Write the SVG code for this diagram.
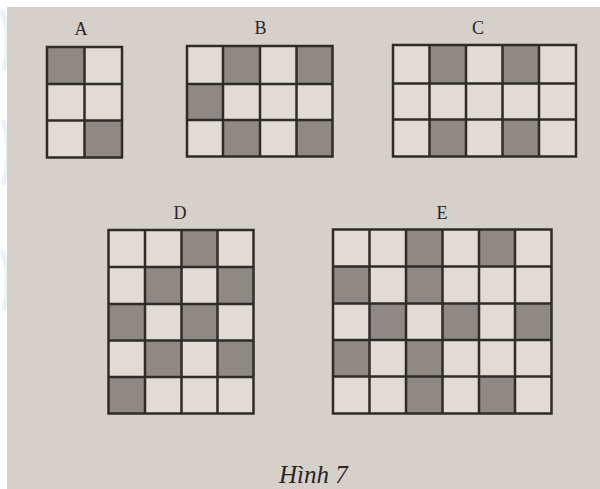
<svg xmlns="http://www.w3.org/2000/svg" width="600" height="489" viewBox="0 0 600 489">
<style>
.paper{fill:#d6d0cb}
.cell{fill:#e1dbd6}
.dark{fill:#8f8985}
.grid{fill:none;stroke:#2f2b29;stroke-width:2.5;stroke-linecap:square}
.lbl{font-family:"Liberation Serif","Times New Roman",serif;font-size:18px;fill:#2a2624;text-anchor:middle}
.cap{font-family:"Liberation Serif","Times New Roman",serif;font-size:25px;font-style:italic;fill:#2a2624}
.wm{fill:none;stroke:#d9e9f5;stroke-width:5;opacity:0.6}
</style>
<rect x="0" y="0" width="600" height="489" fill="#ffffff"/>
<path class="wm" d="M2,10 Q12,40 4,70"/>
<path class="wm" d="M3,120 Q14,150 3,185"/>
<path class="wm" d="M2,250 Q12,280 4,310"/>
<rect class="paper" x="7" y="7" width="593" height="482"/>

<g id="A">
<text class="lbl" x="81" y="35">A</text>
<rect class="cell" x="47" y="47" width="75" height="110.5"/>
<rect class="dark" x="47" y="47" width="37.5" height="37"/>
<rect class="dark" x="84.5" y="120.5" width="37.5" height="37"/>
<path class="grid" d="M47,47H122V157.5H47Z M84.5,47V157.5 M47,84H122 M47,120.5H122"/>
</g>

<g id="B">
<text class="lbl" x="260.5" y="34">B</text>
<rect class="cell" x="187" y="46" width="145.5" height="110.5"/>
<rect class="dark" x="223" y="46" width="37" height="38"/>
<rect class="dark" x="296.5" y="46" width="36" height="38"/>
<rect class="dark" x="187" y="84" width="36" height="36"/>
<rect class="dark" x="223" y="120" width="37" height="36.5"/>
<rect class="dark" x="296.5" y="120" width="36" height="36.5"/>
<path class="grid" d="M187,46H332.5V156.5H187Z M223,46V156.5 M260,46V156.5 M296.5,46V156.5 M187,84H332.5 M187,120H332.5"/>
</g>

<g id="C">
<text class="lbl" x="478" y="34">C</text>
<rect class="cell" x="393" y="45" width="183" height="111.5"/>
<rect class="dark" x="429.5" y="45" width="36.5" height="38.5"/>
<rect class="dark" x="502.5" y="45" width="36.5" height="38.5"/>
<rect class="dark" x="429.5" y="119.5" width="36.5" height="37"/>
<rect class="dark" x="502.5" y="119.5" width="36.5" height="37"/>
<path class="grid" d="M393,45H576V156.5H393Z M429.5,45V156.5 M466,45V156.5 M502.5,45V156.5 M539,45V156.5 M393,83.5H576 M393,119.5H576"/>
</g>

<g id="D">
<text class="lbl" x="180" y="219">D</text>
<rect class="cell" x="108.5" y="230" width="145" height="183.5"/>
<rect class="dark" x="181.5" y="230" width="36" height="37"/>
<rect class="dark" x="145" y="267" width="36.5" height="37"/>
<rect class="dark" x="217.5" y="267" width="36" height="37"/>
<rect class="dark" x="108.5" y="304" width="36.5" height="36.5"/>
<rect class="dark" x="181.5" y="304" width="36" height="36.5"/>
<rect class="dark" x="145" y="340.5" width="36.5" height="36.5"/>
<rect class="dark" x="217.5" y="340.5" width="36" height="36.5"/>
<rect class="dark" x="108.5" y="377" width="36.5" height="36.5"/>
<path class="grid" d="M108.5,230H253.5V413.5H108.5Z M145,230V413.5 M181.5,230V413.5 M217.5,230V413.5 M108.5,267H253.5 M108.5,304H253.5 M108.5,340.5H253.5 M108.5,377H253.5"/>
</g>

<g id="E">
<text class="lbl" x="442" y="219">E</text>
<rect class="cell" x="333" y="229.5" width="218.5" height="184"/>
<rect class="dark" x="406" y="229.5" width="36.5" height="37"/>
<rect class="dark" x="479" y="229.5" width="36" height="37"/>
<rect class="dark" x="333" y="266.5" width="36.5" height="37"/>
<rect class="dark" x="406" y="266.5" width="36.5" height="37"/>
<rect class="dark" x="369.5" y="303.5" width="36.5" height="36.5"/>
<rect class="dark" x="442.5" y="303.5" width="36.5" height="36.5"/>
<rect class="dark" x="515" y="303.5" width="36.5" height="36.5"/>
<rect class="dark" x="333" y="340" width="36.5" height="36.5"/>
<rect class="dark" x="406" y="340" width="36.5" height="36.5"/>
<rect class="dark" x="406" y="376.5" width="36.5" height="37"/>
<rect class="dark" x="479" y="376.5" width="36" height="37"/>
<path class="grid" d="M333,229.5H551.5V413.5H333Z M369.5,229.5V413.5 M406,229.5V413.5 M442.5,229.5V413.5 M479,229.5V413.5 M515,229.5V413.5 M333,266.5H551.5 M333,303.5H551.5 M333,340H551.5 M333,376.5H551.5"/>
</g>

<text class="cap" x="279" y="483">Hình 7</text>
</svg>
